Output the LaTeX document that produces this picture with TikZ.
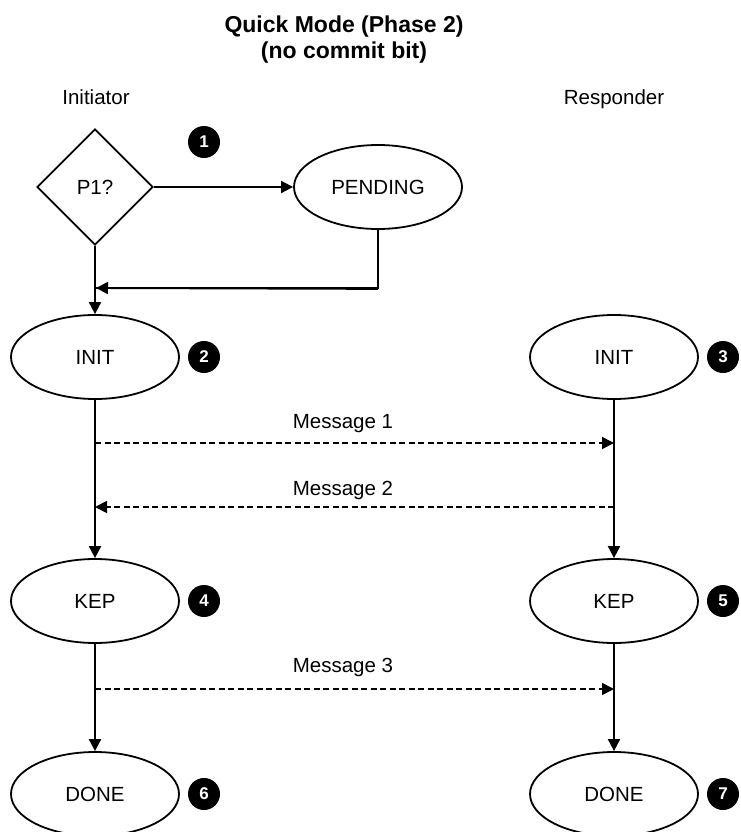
\documentclass[tikz,border=0pt]{standalone}
\usepackage{fontspec}
\setmainfont{Liberation Sans}
\usetikzlibrary{shapes.geometric,arrows.meta}
\tikzset{
  txt/.style={font=\fontsize{20.5}{24}\selectfont, inner sep=0pt, anchor=base},
  state/.style={draw, ellipse, line width=1.8pt, minimum width=168pt, minimum height=84pt, inner sep=0pt, font=\fontsize{20.5}{24}\selectfont},
  decide/.style={draw, diamond, line width=1.8pt, minimum width=116pt, minimum height=116pt, inner sep=0pt, font=\fontsize{20.5}{24}\selectfont},
  num/.style={circle, fill=black, minimum size=32pt, inner sep=0pt, text=white, font=\fontsize{17}{17}\selectfont\bfseries},
  arr/.style={line width=1.9pt, -{Triangle[length=12pt,width=12pt]}},
  msg/.style={line width=1.8pt, dash pattern=on 6pt off 3.5pt, -{Triangle[length=12pt,width=12pt]}}
}
\begin{document}
\begin{tikzpicture}[x=1pt,y=-1pt]
\useasboundingbox (0,0) rectangle (740,832);
% title and column headers
\node[font=\fontsize{23}{26}\selectfont\bfseries, align=center, inner sep=0pt] (title) at (344,40) {Quick Mode (Phase 2)\\(no commit bit)};
\node[txt] (ini) at (96,105) {Initiator};
\node[txt] (res) at (614,105) {Responder};
% phase 1 check
\node[decide] (p1) at (95,187) {P1?};
\node[state] (pend) at (378,187) {PENDING};
\node[num] (n1) at (204,142) {1};
\coordinate (join) at (96,288);
% states
\node[state] (initL) at (95,357) {INIT};
\node[state] (initR) at (614,357) {INIT};
\node[num] (n2) at (204,357) {2};
\node[num] (n3) at (723,357) {3};
\node[state] (kepL) at (95,601) {KEP};
\node[state] (kepR) at (614,601) {KEP};
\node[num] (n4) at (204,601) {4};
\node[num] (n5) at (723,601) {5};
\node[state] (doneL) at (95,794) {DONE};
\node[state] (doneR) at (614,794) {DONE};
\node[num] (n6) at (204,794) {6};
\node[num] (n7) at (723,794) {7};
% message labels
\node[txt] (l1) at (343,428) {Message 1};
\node[txt] (l2) at (343,495) {Message 2};
\node[txt] (l3) at (343,672) {Message 3};
% message endpoints
\coordinate (m1a) at (95,443);
\coordinate (m1b) at (614,443);
\coordinate (m2a) at (614,507);
\coordinate (m2b) at (95,507);
\coordinate (m3a) at (95,689);
\coordinate (m3b) at (614,689);
% connectors
\draw[arr] (p1.east) -- (pend.west);
\draw[line width=1.9pt] (pend.south) |- (join);
\draw[arr] (pend.south) ++(0,59) -- (join);
\draw[arr] (p1.south) -- (initL.north);
\draw[arr] (initL.south) -- (kepL.north);
\draw[arr] (initR.south) -- (kepR.north);
\draw[arr] (kepL.south) -- (doneL.north);
\draw[arr] (kepR.south) -- (doneR.north);
\draw[msg] (m1a) -- (m1b);
\draw[msg] (m2a) -- (m2b);
\draw[msg] (m3a) -- (m3b);
\end{tikzpicture}
\end{document}
